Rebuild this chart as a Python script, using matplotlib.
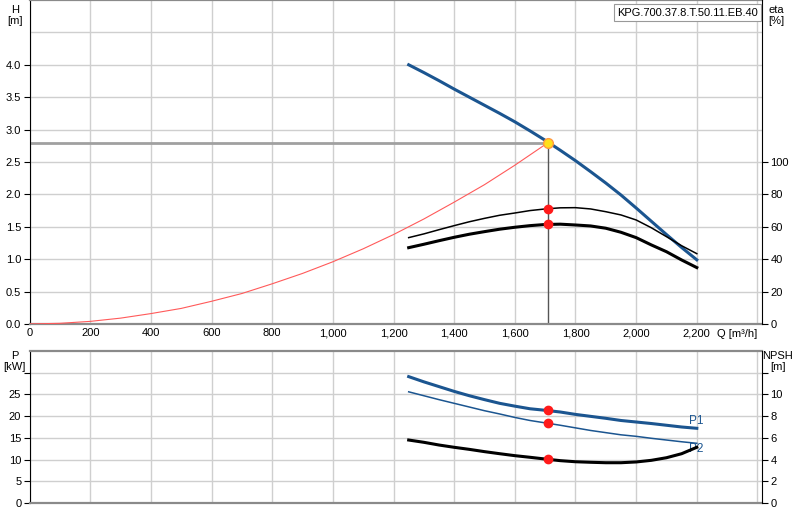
import matplotlib.pyplot as plt
from matplotlib.ticker import FixedLocator

plt.rcParams["font.family"] = ["Liberation Sans", "DejaVu Sans"]
plt.rcParams["font.size"] = 8

# pump curve H [m] over Q [m3/h]
q_pump = [1250, 1300, 1350, 1400, 1450, 1500, 1550, 1600, 1650, 1700,
          1750, 1800, 1850, 1900, 1950, 2000, 2050, 2100, 2150, 2200]
h_pump = [4.00, 3.88, 3.755, 3.625, 3.50, 3.375, 3.25, 3.12, 2.98, 2.835,
          2.68, 2.52, 2.35, 2.175, 1.99, 1.79, 1.585, 1.38, 1.18, 0.99]

# efficiency curves [%]
eta_thin = [53.3, 55.6, 58.2, 60.7, 63.1, 65.2, 67.1, 68.5, 70.0, 71.0,
            71.7, 71.8, 71.0, 69.3, 67.3, 64.2, 59.4, 53.9, 48.3, 43.4]
eta_thick = [47.1, 49.2, 51.4, 53.5, 55.4, 57.0, 58.5, 59.7, 60.7, 61.4,
             61.6, 61.1, 60.5, 59.1, 56.6, 53.3, 48.8, 44.6, 39.5, 34.8]

# system curve
q_sys = [0, 100, 200, 300, 400, 500, 600, 700, 800, 900, 1000, 1100, 1200, 1300, 1400, 1500, 1600, 1710]
h_sys = [0.0, 0.01, 0.04, 0.09, 0.16, 0.24, 0.35, 0.47, 0.62, 0.78, 0.96, 1.16, 1.38, 1.62, 1.88, 2.15, 2.45, 2.8]

# power [kW] and NPSH [m]
p1 = [29.1, 27.9, 26.8, 25.7, 24.7, 23.8, 22.95, 22.3, 21.7, 21.35,
      20.95, 20.4, 19.95, 19.5, 19.0, 18.65, 18.3, 17.9, 17.5, 17.2]
p2 = [25.6, 24.7, 23.8, 22.95, 22.1, 21.25, 20.5, 19.7, 19.0, 18.45,
      17.9, 17.3, 16.7, 16.2, 15.7, 15.35, 14.9, 14.5, 14.1, 13.75]
npsh = [5.80, 5.59, 5.34, 5.13, 4.94, 4.73, 4.54, 4.36, 4.21, 4.05,
        3.90, 3.80, 3.75, 3.71, 3.71, 3.78, 3.93, 4.17, 4.54, 5.13]

q_op, h_op = 1710, 2.8
eta_op = [71.2, 61.5]
p_op = [21.3, 18.35]
npsh_op = 4.02

q_ticks = list(range(0, 2600, 200))
q_labels = ["0", "200", "400", "600", "800", "1,000", "1,200", "1,400",
            "1,600", "1,800", "2,000", "2,200", ""]

BLUE = "#1b5590"
GRID = "#cfcfcf"
EDGE = "#8a8a8a"


def style_frame(ax, twin):
    ax.set_xlim(0, 2415)
    ax.xaxis.set_major_locator(FixedLocator(q_ticks))
    ax.grid(True, color=GRID, lw=1)
    ax.set_axisbelow(True)
    ax.spines["left"].set_color("black")
    ax.spines["right"].set_visible(False)
    for side in ["top", "bottom"]:
        ax.spines[side].set_color(EDGE)
        ax.spines[side].set_linewidth(1.6)
    for side in ["left", "top", "bottom"]:
        twin.spines[side].set_visible(False)
    twin.spines["right"].set_color("black")
    ax.tick_params(axis="y", length=4, pad=2)
    twin.tick_params(axis="y", length=4, pad=2)
    ax.tick_params(axis="x", length=0, pad=3)


fig = plt.figure(figsize=(8, 5.2), dpi=100)

# top chart: H and eta
ax = fig.add_axes([0.037, 0.377, 0.9155, 0.623])
ax2 = ax.twinx()
style_frame(ax, ax2)
ax.set_ylim(0, 5)
ax.set_yticks([0, 0.5, 1.0, 1.5, 2.0, 2.5, 3.0, 3.5, 4.0, 4.5])
ax.set_yticklabels(["0.0", "0.5", "1.0", "1.5", "2.0", "2.5", "3.0", "3.5", "4.0", ""])
ax.yaxis.get_major_ticks()[-1].tick1line.set_visible(False)
ax.set_xticklabels(q_labels)
ax2.set_ylim(0, 200)
ax2.set_yticks([0, 20, 40, 60, 80, 100])

ax.axhline(h_op, xmax=q_op / 2415, color="#a0a0a0", lw=2, zorder=2)
ax.plot([q_op, q_op], [0, h_op], color="#555555", lw=1, zorder=2)
ax.plot(q_sys, h_sys, color="#ff5a5a", lw=0.8, zorder=3)
ax.plot(q_pump, h_pump, color=BLUE, lw=2.2, zorder=4)
ax.plot(q_op, h_op, "o", ms=7, mfc="#ffe01a", mec="#ff9a40", mew=1, zorder=6)

ax2.plot(q_pump, eta_thin, color="black", lw=1.1)
ax2.plot(q_pump, eta_thick, color="black", lw=2.2)
ax2.plot([q_op, q_op], eta_op, "o", ms=6, color="#ff1a1a", zorder=5)

ax.text(2400, -0.15, "Q [m³/h]", ha="right", va="center", fontsize=8)
fig.text(0.019, 0.99, "H\n[m]", ha="center", va="top", fontsize=8, linespacing=1.1)
fig.text(0.97, 0.99, "eta\n[%]", ha="center", va="top", fontsize=8, linespacing=1.1)
fig.text(0.9475, 0.985, "KPG.700.37.8.T.50.11.EB.40", ha="right", va="top", fontsize=8,
         bbox=dict(boxstyle="square,pad=0.3", fc="white", ec="#999999", lw=0.8))

# bottom chart: P and NPSH
bx = fig.add_axes([0.037, 0.0327, 0.9155, 0.2923])
bx2 = bx.twinx()
style_frame(bx, bx2)
bx.set_xticklabels([])
bx.set_ylim(0, 35)
bx.set_yticks([0, 5, 10, 15, 20, 25, 30])
bx.set_yticklabels(["0", "5", "10", "15", "20", "25", ""])
bx2.set_ylim(0, 14)
bx2.set_yticks([0, 2, 4, 6, 8, 10, 12])
bx2.set_yticklabels(["0", "2", "4", "6", "8", "10", ""])

bx.plot(q_pump, p1, color=BLUE, lw=2.2)
bx.plot(q_pump, p2, color=BLUE, lw=1.1)
bx.plot([q_op, q_op], p_op, "o", ms=6, color="#ff1a1a", zorder=5)
bx2.plot(q_pump, npsh, color="black", lw=2.2)
bx2.plot(q_op, npsh_op, "o", ms=6, color="#ff1a1a", zorder=5)
bx.text(2174, 18.9, "P1", color=BLUE, fontsize=8.5, ha="left", va="center")
bx.text(2174, 12.4, "P2", color=BLUE, fontsize=8.5, ha="left", va="center")

fig.text(0.018, 0.325, "P\n[kW]", ha="center", va="top", fontsize=8, linespacing=1.1)
fig.text(0.972, 0.325, "NPSH\n[m]", ha="center", va="top", fontsize=8, linespacing=1.1)

fig.savefig("out.png", dpi=100)
